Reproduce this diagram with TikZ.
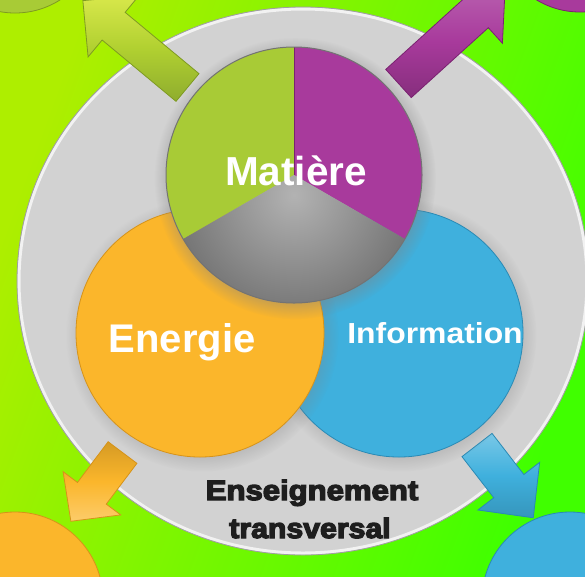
\documentclass[tikz,border=0pt]{standalone}
\usepackage{fontspec}
\usepackage{graphicx}
\setmainfont{Liberation Sans}
\newfontfamily\heavy{Liberation Sans}[FakeBold=4.5]
\usetikzlibrary{shadows}
\definecolor{bgA}{HTML}{AEEE00}
\definecolor{bgB}{HTML}{40FF00}
\definecolor{grayC}{HTML}{D2D2D2}
\definecolor{greenS}{HTML}{A8CB36}
\definecolor{greenD}{HTML}{7E9A22}
\definecolor{purpleS}{HTML}{A83A9C}
\definecolor{purpleD}{HTML}{7A2270}
\definecolor{orangeS}{HTML}{FBB62B}
\definecolor{orangeD}{HTML}{D6931A}
\definecolor{blueS}{HTML}{3FB0DD}
\definecolor{blueD}{HTML}{2A8AB5}
\definecolor{inkC}{HTML}{1E1E1E}
\tikzset{
  arrowshape/.style={line width=0.8pt, line join=miter},
  disc/.style={line width=0.8pt},
  labelw/.style={text=white, inner sep=0pt, anchor=base},
}
\begin{document}
\begin{tikzpicture}[x=1pt,y=1pt]
\useasboundingbox (0,0) rectangle (585,-576);
\begin{scope}
\clip (0,0) rectangle (585,-576);
% background
\shade[top color=bgA, bottom color=bgB, shading angle=70] (0,0) rectangle (585,-576);
% corner circles
\fill[greenS, draw=greenD, disc] (15,71) circle (84);
\fill[purpleS, draw=purpleD, disc] (580,72) circle (84);
\fill[orangeS, draw=orangeD, disc] (15,-600) circle (88);
\fill[blueS, draw=blueD, disc] (570,-600) circle (88);
% large grey disc
\fill[grayC] (303,-281) ellipse [x radius=286, y radius=274];
\draw[white!90!gray, line width=3pt] (303,-281) ellipse [x radius=284, y radius=272];
\draw[gray!75, line width=0.8pt] (303,-281) ellipse [x radius=286, y radius=274];
% arrows
\begin{scope}[shift={(187.5,-87.5)}, rotate=140.3]
\shade[top color=greenS!55!yellow!80!white, bottom color=greenS!85!black, middle color=greenS!90!yellow] (0,-18) -- (96,-18) -- (96,-40) -- (136,0) -- (96,40) -- (96,18) -- (0,18) -- cycle;
\draw[greenD, arrowshape] (0,-18) -- (96,-18) -- (96,-40) -- (136,0) -- (96,40) -- (96,18) -- (0,18) -- cycle;
\end{scope}
\begin{scope}[shift={(398.5,-83.5)}, rotate=42.2]
\shade[top color=purpleS!80!white, bottom color=purpleS!80!black, middle color=purpleS] (0,-19) -- (104,-19) -- (104,-40) -- (144,0) -- (104,40) -- (104,19) -- (0,19) -- cycle;
\draw[purpleD, arrowshape] (0,-19) -- (104,-19) -- (104,-40) -- (144,0) -- (104,40) -- (104,19) -- (0,19) -- cycle;
\end{scope}
\begin{scope}[shift={(122.5,-452.5)}, rotate=233.1]
\shade[top color=orangeS!85!black, bottom color=orangeS!70!white, middle color=orangeS] (0,-18) -- (51,-18) -- (51,-36) -- (86,0) -- (51,36) -- (51,18) -- (0,18) -- cycle;
\draw[orangeD, arrowshape] (0,-18) -- (51,-18) -- (51,-36) -- (86,0) -- (51,36) -- (51,18) -- (0,18) -- cycle;
\end{scope}
\begin{scope}[shift={(477,-445)}, rotate=-52.3]
\shade[top color=blueS!70!white, bottom color=blueS!85!black, middle color=blueS] (0,-19) -- (52,-19) -- (52,-39) -- (92,0) -- (52,39) -- (52,19) -- (0,19) -- cycle;
\draw[blueD, arrowshape] (0,-19) -- (52,-19) -- (52,-39) -- (92,0) -- (52,39) -- (52,19) -- (0,19) -- cycle;
\end{scope}
% Information and Energie discs
\path[circular drop shadow={shadow xshift=1pt, shadow yshift=-2pt, opacity=0.35}] (399,-333) circle (124);
\fill[blueS, draw=blueD, disc] (399,-333) circle (124);
\path[circular drop shadow={shadow xshift=2pt, shadow yshift=-2pt, opacity=0.35}] (200,-333) circle (124);
\fill[orangeS, draw=orangeD, disc] (200,-333) circle (124);
% Matiere disc
\path[circular drop shadow={shadow xshift=1pt, shadow yshift=-3pt, opacity=0.5}] (294,-175) circle (128);
\fill[greenS] (294,-175) -- ++(90:128) arc[start angle=90, end angle=210, radius=128] -- cycle;
\fill[purpleS] (294,-175) -- ++(-30:128) arc[start angle=-30, end angle=90, radius=128] -- cycle;
\begin{scope}
\clip (294,-175) -- ++(210:128) arc[start angle=210, end angle=330, radius=128] -- cycle;
\shade[inner color=gray!60, outer color=black!82] (294,-195) circle (260);
\end{scope}
\draw[purpleD, line width=0.8pt] (294,-175) -- ++(90:128);
\draw[black!55, line width=1pt] (294,-175) circle (128);
% labels
\node[labelw, font=\bfseries\fontsize{40.5}{44}\selectfont] (mat) at (296,-185) {Matière};
\node[labelw, font=\bfseries\fontsize{40}{44}\selectfont] (ene) at (182,-352) {Energie};
\node[labelw, font=\bfseries\fontsize{29}{32}\selectfont] (inf) at (435,-343) {\scalebox{1.1}[1]{Information}};
\node[inner sep=0pt, anchor=base, text=inkC, font=\heavy\bfseries\fontsize{28}{32}\selectfont] (ens1) at (312,-500) {\scalebox{1.11}[1]{Enseignement}};
\node[inner sep=0pt, anchor=base, text=inkC, font=\heavy\bfseries\fontsize{28}{32}\selectfont] (ens2) at (310,-538) {\scalebox{1.08}[1]{transversal}};
\end{scope}
\end{tikzpicture}
\end{document}
